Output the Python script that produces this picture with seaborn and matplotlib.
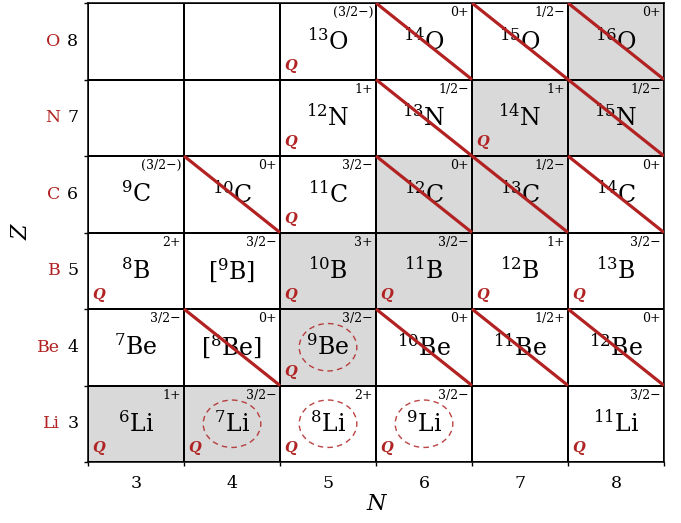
import numpy as np
import pandas as pd
import matplotlib
matplotlib.use("Agg")
import matplotlib.pyplot as plt
import seaborn as sns
from matplotlib.colors import ListedColormap
from matplotlib.patches import Ellipse
from matplotlib.transforms import blended_transform_factory

# ===== data =====
n_values = [3, 4, 5, 6, 7, 8]
z_values = [8, 7, 6, 5, 4, 3]          # top -> bottom
elements = ["O", "N", "C", "B", "Be", "Li"]

nuclide_labels = [
    ["", "", r"$^{13}$O", r"$^{14}$O", r"$^{15}$O", r"$^{16}$O"],
    ["", "", r"$^{12}$N", r"$^{13}$N", r"$^{14}$N", r"$^{15}$N"],
    [r"$^{9}$C", r"$^{10}$C", r"$^{11}$C", r"$^{12}$C", r"$^{13}$C", r"$^{14}$C"],
    [r"$^{8}$B", r"[$^{9}$B]", r"$^{10}$B", r"$^{11}$B", r"$^{12}$B", r"$^{13}$B"],
    [r"$^{7}$Be", r"[$^{8}$Be]", r"$^{9}$Be", r"$^{10}$Be", r"$^{11}$Be", r"$^{12}$Be"],
    [r"$^{6}$Li", r"$^{7}$Li", r"$^{8}$Li", r"$^{9}$Li", "", r"$^{11}$Li"],
]

spins = [
    ["", "", "(3/2−)", "0+", "1/2−", "0+"],
    ["", "", "1+", "1/2−", "1+", "1/2−"],
    ["(3/2−)", "0+", "3/2−", "0+", "1/2−", "0+"],
    ["2+", "3/2−", "3+", "3/2−", "1+", "3/2−"],
    ["3/2−", "0+", "3/2−", "0+", "1/2+", "0+"],
    ["1+", "3/2−", "2+", "3/2−", "", "3/2−"],
]

stable = [
    [0, 0, 0, 0, 0, 1],
    [0, 0, 0, 0, 1, 1],
    [0, 0, 0, 1, 1, 0],
    [0, 0, 1, 1, 0, 0],
    [0, 0, 1, 0, 0, 0],
    [1, 1, 0, 0, 0, 0],
]

has_q = [
    [0, 0, 1, 0, 0, 0],
    [0, 0, 1, 0, 1, 0],
    [0, 0, 1, 0, 0, 0],
    [1, 0, 1, 1, 1, 1],
    [0, 0, 1, 0, 0, 0],
    [1, 1, 1, 1, 0, 1],
]

crossed = [
    [0, 0, 0, 1, 1, 1],
    [0, 0, 0, 1, 0, 1],
    [0, 1, 0, 1, 1, 1],
    [0, 0, 0, 0, 0, 0],
    [0, 1, 0, 1, 1, 1],
    [0, 0, 0, 0, 0, 0],
]

circled = [(4, 5), (3, 4), (3, 5), (3, 6)]   # (Z, N)

# ===== style =====
RED = "#b22222"
GREY = "#d9d9d9"
plt.rcParams["font.family"] = ["DejaVu Serif"]
plt.rcParams["mathtext.fontset"] = "dejavuserif"

fig = plt.figure(figsize=(6.81, 5.23), dpi=100)
ax = fig.add_axes([88 / 681, 61 / 523, 576 / 681, 459 / 523])

df = pd.DataFrame(stable, index=z_values, columns=n_values)
sns.heatmap(df, ax=ax, cmap=ListedColormap(["white", GREY]), cbar=False,
            linewidths=1.1, linecolor="black", vmin=0, vmax=1)

for sp in ax.spines.values():
    sp.set_visible(True)
    sp.set_linewidth(1.1)
    sp.set_color("black")

for i in range(len(z_values)):
    for j in range(len(n_values)):
        cx, cy = j + 0.5, i + 0.5
        if nuclide_labels[i][j]:
            ax.text(cx, cy, nuclide_labels[i][j], ha="center", va="center",
                    fontsize=17, zorder=3)
        if spins[i][j]:
            ax.text(j + 0.97, i + 0.04, spins[i][j], ha="right", va="top",
                    fontsize=9, zorder=3)
        if has_q[i][j]:
            ax.text(j + 0.04, i + 0.87, "Q", ha="left", va="baseline",
                    fontsize=10.5, color=RED, fontweight="bold",
                    fontstyle="italic", zorder=3)
        if crossed[i][j]:
            ax.plot([j, j + 1], [i, i + 1], color=RED, lw=2.3, zorder=4,
                    solid_capstyle="butt")

for z, n in circled:
    i = z_values.index(z)
    j = n_values.index(n)
    ax.add_patch(Ellipse((j + 0.5, i + 0.5), 0.6, 0.62, fill=False,
                         ec=RED, lw=1.0, ls=(0, (4, 3)), alpha=0.85, zorder=2))

# ticks
ax.set_xticks(np.arange(len(n_values)) + 0.5)
ax.set_xticklabels([str(n) for n in n_values], fontsize=12.5)
ax.set_yticks(np.arange(len(z_values)) + 0.5)
ax.set_yticklabels([str(z) for z in z_values], fontsize=12.5, rotation=0)
ax.tick_params(axis="x", which="major", length=0, pad=9)
ax.tick_params(axis="y", which="major", length=0, pad=7)
ax.set_xticks(np.arange(len(n_values) + 1), minor=True)
ax.set_yticks(np.arange(len(z_values) + 1), minor=True)
ax.tick_params(axis="both", which="minor", length=3, width=1.0, direction="out")

trans = blended_transform_factory(ax.transAxes, ax.transData)
for i, el in enumerate(elements):
    ax.text(-0.048, i + 0.5, el, transform=trans, ha="right", va="center",
            fontsize=12.5, color=RED)

ax.set_xlabel("N", fontsize=16, fontstyle="italic", labelpad=1)
ax.set_ylabel("Z", fontsize=16, fontstyle="italic")
ax.yaxis.set_label_coords(-0.097, 0.5)

fig.savefig("out.png", dpi=100)
